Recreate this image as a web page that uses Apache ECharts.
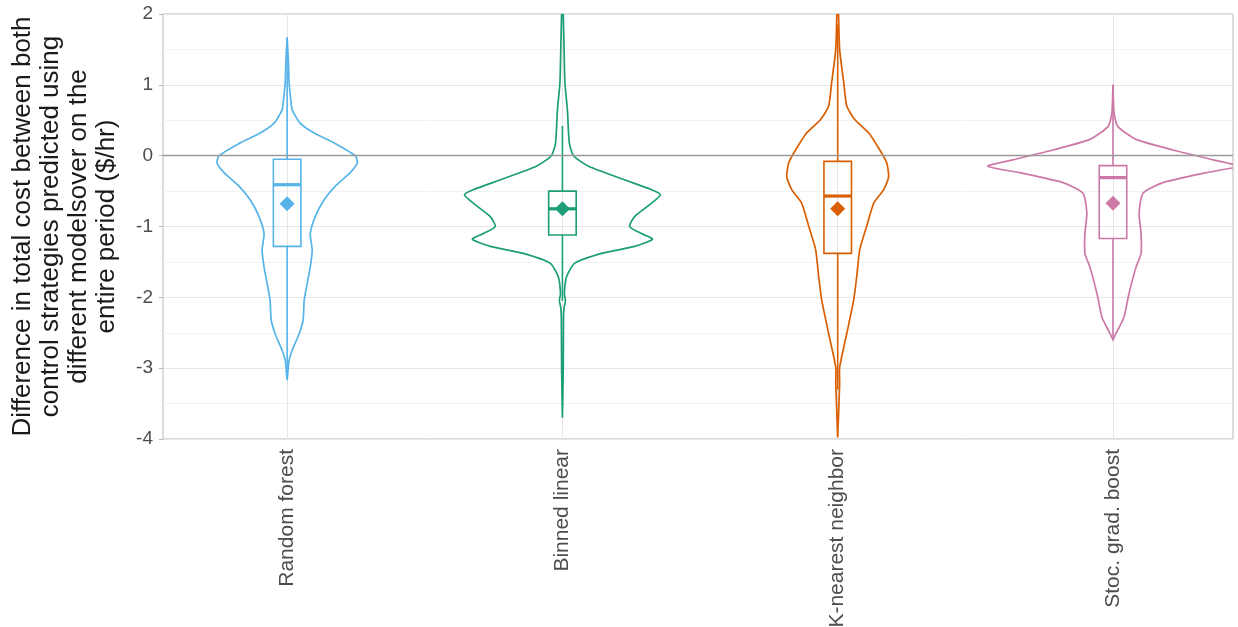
<!DOCTYPE html>
<html>
<head>
<meta charset="utf-8">
<title>Cost difference violins</title>
<script src="https://cdn.jsdelivr.net/npm/echarts@6/dist/echarts.min.js"></script>
<style>
    html, body { margin: 0; padding: 0; background: #fff; }
    #main { width: 1238px; height: 627px; }
</style>
</head>
<body>
<div id="main"></div>
<script>
    // models on the x axis
    var categories = ['Random forest', 'Binned linear', 'K-nearest neighbor', 'Stoc. grad. boost'];
    var colors = ['#56b4e9', '#1b9e77', '#d95f02', '#cc79a7'];

    // violin outlines: [value, half width in category units]
    var rfViolin = [[1.67, 0], [1.3, 0.005], [1.03, 0.007], [0.8, 0.013], [0.65, 0.018], [0.46, 0.047], [0.32, 0.098],
        [0.18, 0.171], [0.0, 0.247], [-0.1, 0.255], [-0.24, 0.229], [-0.43, 0.175], [-0.62, 0.135], [-0.86, 0.102],
        [-1.1, 0.084], [-1.33, 0.091], [-1.57, 0.084], [-1.8, 0.073], [-2.04, 0.062], [-2.32, 0.058], [-2.51, 0.044],
        [-2.75, 0.018], [-2.89, 0.007], [-3.17, 0]];
    var blViolin = [[2.1, 0], [2.0, 0.003], [1.5, 0.006], [1.03, 0.009], [0.65, 0.018], [0.18, 0.025], [0.0, 0.04],
        [-0.15, 0.095], [-0.34, 0.225], [-0.48, 0.324], [-0.55, 0.356], [-0.67, 0.324], [-0.86, 0.262], [-1.0, 0.244],
        [-1.1, 0.287], [-1.18, 0.327], [-1.28, 0.262], [-1.38, 0.142], [-1.52, 0.044], [-1.71, 0.015], [-1.95, 0.007],
        [-2.04, 0.011], [-2.15, 0.006], [-2.28, 0.004], [-3.0, 0.003], [-3.7, 0]];
    var knnViolin = [[2.1, 0], [2.0, 0.003], [1.5, 0.007], [1.03, 0.022], [0.7, 0.033], [0.51, 0.062], [0.32, 0.113],
        [0.08, 0.153], [-0.1, 0.178], [-0.3, 0.185], [-0.48, 0.167], [-0.67, 0.131], [-1.0, 0.105], [-1.33, 0.08],
        [-1.71, 0.069], [-2.04, 0.058], [-2.51, 0.033], [-2.99, 0.007], [-3.22, 0.007], [-3.98, 0]];
    var sgbViolin = [[1.0, 0], [0.6, 0.004], [0.41, 0.018], [0.23, 0.084], [0.08, 0.218], [-0.06, 0.364], [-0.15, 0.455],
        [-0.24, 0.338], [-0.38, 0.182], [-0.53, 0.109], [-0.81, 0.095], [-1.1, 0.102], [-1.38, 0.102], [-1.57, 0.084],
        [-1.95, 0.058], [-2.28, 0.04], [-2.51, 0.011], [-2.6, 0]];

    // box plot statistics per model
    var whiskerLow = [-3.1, -2.05, -3.3, -2.6];
    var q1 = [-1.28, -1.12, -1.38, -1.17];
    var median = [-0.41, -0.75, -0.57, -0.31];
    var q3 = [-0.05, -0.5, -0.08, -0.14];
    var whiskerHigh = [1.67, 0.42, 1.85, 1.0];
    var mean = [-0.68, -0.75, -0.75, -0.67];

    var yTicks = [-4, -3, -2, -1, 0, 1, 2];

    var violins = [rfViolin, blViolin, knnViolin, sgbViolin];
    var boxHalf = 0.05;

    function renderViolin(params, api) {
        var i = params.dataIndex;
        var x = i + 1;
        var color = colors[i];
        var outline = violins[i];
        var pts = [];
        outline.forEach(function (p) { pts.push(api.coord([x + p[1], p[0]])); });
        for (var k = outline.length - 1; k >= 0; k--) {
            pts.push(api.coord([x - outline[k][1], outline[k][0]]));
        }
        var boxTop = api.coord([x - boxHalf, q3[i]]);
        var boxBot = api.coord([x + boxHalf, q1[i]]);
        var medL = api.coord([x - boxHalf, median[i]]);
        var medR = api.coord([x + boxHalf, median[i]]);
        var wHi = api.coord([x, whiskerHigh[i]]);
        var wHiBox = api.coord([x, q3[i]]);
        var wLo = api.coord([x, whiskerLow[i]]);
        var wLoBox = api.coord([x, q1[i]]);
        var lineStyle = {stroke: color, lineWidth: 1.6, fill: null};
        return {
            type: 'group',
            children: [
                {type: 'polygon', shape: {points: pts, smooth: 0.2}, style: {stroke: color, lineWidth: 1.7, fill: 'rgba(0,0,0,0)'}},
                {type: 'line', shape: {x1: wHi[0], y1: wHi[1], x2: wHiBox[0], y2: wHiBox[1]}, style: lineStyle},
                {type: 'line', shape: {x1: wLo[0], y1: wLo[1], x2: wLoBox[0], y2: wLoBox[1]}, style: lineStyle},
                {type: 'rect', shape: {x: boxTop[0], y: boxTop[1], width: boxBot[0] - boxTop[0], height: boxBot[1] - boxTop[1]},
                    style: {stroke: color, lineWidth: 1.6, fill: 'rgba(0,0,0,0)'}},
                {type: 'line', shape: {x1: medL[0], y1: medL[1], x2: medR[0], y2: medR[1]}, style: {stroke: color, lineWidth: 3.2}}
            ]
        };
    }

    var dom = document.getElementById('main');
    var myChart = echarts.init(dom);
    var option = {
        animation: false,
        textStyle: {fontFamily: 'Liberation Sans, Arial, sans-serif'},
        grid: {
            left: 163, right: 5, top: 14, bottom: 188,
            outerBoundsMode: 'none',
            containLabel: false,
            show: true, borderColor: '#b8b8b8', borderWidth: 1
        },
        xAxis: {
            type: 'value',
            min: 0.549,
            max: 4.436,
            axisLine: {show: false},
            axisTick: {show: true, customValues: [1, 2, 3, 4], length: 4, lineStyle: {color: '#b8b8b8'}},
            axisLabel: {
                customValues: [1, 2, 3, 4],
                rotate: 90, margin: 10, fontSize: 21, color: '#4d4d4d',
                formatter: function (v) { return categories[Math.round(v) - 1]; }
            },
            splitLine: {show: true, lineStyle: {color: '#e6e6e6'}}
        },
        yAxis: {
            type: 'value',
            min: -4,
            max: 2,
            interval: 1,
            name: 'Difference in total cost between both\ncontrol strategies predicted using\ndifferent modelsover on the\nentire period ($/hr)',
            nameLocation: 'middle',
            nameRotate: 90,
            nameGap: 42,
            nameTextStyle: {fontSize: 26, color: '#1a1a1a', lineHeight: 28, align: 'center'},
            axisLine: {show: false},
            axisTick: {show: true, length: 4, lineStyle: {color: '#b8b8b8'}},
            axisLabel: {
                margin: 10, fontSize: 19, color: '#4d4d4d',
                formatter: function (v) { return yTicks.indexOf(v) >= 0 ? String(v) : ''; }
            },
            splitLine: {show: true, lineStyle: {color: '#e6e6e6'}},
            minorTick: {show: false, splitNumber: 2},
            minorSplitLine: {show: true, lineStyle: {color: '#f2f2f2'}}
        },
        series: [
            {
                type: 'custom',
                renderItem: renderViolin,
                clip: true,
                data: categories.map(function (c, i) { return [i + 1, median[i]]; }),
                markLine: {
                    silent: true,
                    symbol: 'none',
                    label: {show: false},
                    lineStyle: {color: '#9a9a9a', type: 'solid', width: 1.3},
                    data: [{yAxis: 0}]
                },
                z: 2
            },
            {
                type: 'scatter',
                symbol: 'diamond',
                symbolSize: 15,
                itemStyle: {opacity: 1},
                data: mean.map(function (m, i) {
                    return {value: [i + 1, m], itemStyle: {color: colors[i], opacity: 1}};
                }),
                z: 3
            }
        ]
    };
    if (option && typeof option === "object") {
        myChart.setOption(option, true);
    }
</script>
</body>
</html>
